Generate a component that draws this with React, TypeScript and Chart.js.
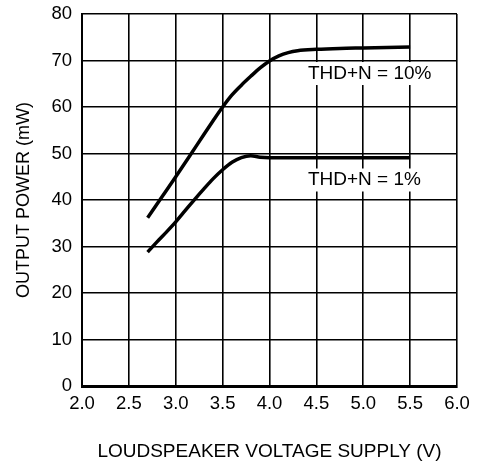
import React, { useEffect, useRef } from "react";
import { Chart, registerables } from "chart.js";

Chart.register(...registerables);

// Data
const supply10: number[] = [2.7, 2.85, 3.0, 3.15, 3.3, 3.4, 3.5, 3.6, 3.7, 3.8, 3.9, 4.0, 4.1, 4.2, 4.3, 4.5, 4.75, 5.0, 5.25, 5.5];
const power10: number[] = [36.2, 40.6, 45.0, 49.5, 54.1, 57.1, 60.0, 62.6, 64.7, 66.6, 68.4, 69.9, 71.0, 71.7, 72.1, 72.4, 72.6, 72.7, 72.8, 72.9];

const supply1: number[] = [2.7, 2.8, 2.9, 3.0, 3.1, 3.2, 3.3, 3.4, 3.5, 3.6, 3.7, 3.8, 3.9, 4.0, 4.5, 5.0, 5.5];
const power1: number[] = [28.8, 31.0, 33.1, 35.3, 37.7, 40.1, 42.4, 44.6, 46.5, 48.1, 49.1, 49.5, 49.2, 49.1, 49.1, 49.1, 49.1];

const seriesNames: string[] = ["THD+N = 10%", "THD+N = 1%"];
// label anchors (data units): left edge of text, vertical center
const labelX: number[] = [4.41, 4.41];
const labelY: number[] = [67.2, 44.3];

const xTitle = "LOUDSPEAKER VOLTAGE SUPPLY (V)";
const yTitle = "OUTPUT POWER (mW)";

const FONT = "'Liberation Sans', Arial, Helvetica, sans-serif";

const labelPlugin = {
  id: "curveLabels",
  afterDatasetsDraw(chart: any) {
    const { ctx, scales } = chart;
    const xs = scales.x;
    const ys = scales.y;
    ctx.save();
    ctx.font = `19px ${FONT}`;
    ctx.textBaseline = "middle";
    ctx.textAlign = "left";
    seriesNames.forEach((name, i) => {
      const px = xs.getPixelForValue(labelX[i]);
      const py = ys.getPixelForValue(labelY[i]);
      const w = ctx.measureText(name).width;
      ctx.fillStyle = "#ffffff";
      ctx.fillRect(px - 3, py - 11.5, w + 6, 23);
      ctx.fillStyle = "#000000";
      ctx.fillText(name, px, py);
    });
    ctx.restore();
  },
};

export default function App() {
  const ref = useRef<HTMLCanvasElement | null>(null);

  useEffect(() => {
    if (!ref.current) return;
    const chart = new Chart(ref.current, {
      type: "line",
      data: {
        datasets: [
          {
            label: seriesNames[0],
            data: supply10.map((v, i) => ({ x: v, y: power10[i] })),
            borderColor: "#000000",
            borderWidth: 3.5,
            pointRadius: 0,
            fill: false,
            cubicInterpolationMode: "monotone",
          },
          {
            label: seriesNames[1],
            data: supply1.map((v, i) => ({ x: v, y: power1[i] })),
            borderColor: "#000000",
            borderWidth: 3.5,
            pointRadius: 0,
            fill: false,
            cubicInterpolationMode: "monotone",
          },
        ],
      },
      options: {
        responsive: false,
        animation: false,
        layout: { padding: { top: 14, right: 24, left: 0, bottom: 0 } },
        plugins: {
          legend: { display: false },
          tooltip: { enabled: false },
          title: { display: false },
        },
        scales: {
          x: {
            type: "linear",
            min: 2,
            max: 6,
            afterFit: (s: any) => {
              s.height = 79;
              s.paddingLeft = 0;
              s.paddingRight = 0;
            },
            ticks: {
              stepSize: 0.5,
              padding: 7,
              color: "#000000",
              font: { family: FONT, size: 18.5 },
              callback: (v: any) => Number(v).toFixed(1),
              maxRotation: 0,
              autoSkip: false,
            },
            grid: { color: "#000000", lineWidth: 1.6, drawTicks: false },
            border: { color: "#000000", width: 3 },
            title: {
              display: true,
              text: xTitle,
              color: "#000000",
              font: { family: FONT, size: 19 },
              padding: { top: 0, bottom: 2 },
            },
          },
          y: {
            type: "linear",
            min: 0,
            max: 80,
            afterFit: (s: any) => {
              s.width = 82;
              s.paddingTop = 0;
              s.paddingBottom = 0;
            },
            ticks: {
              stepSize: 10,
              padding: 10,
              color: "#000000",
              font: { family: FONT, size: 18.5 },
            },
            grid: { color: "#000000", lineWidth: 1.6, drawTicks: false },
            border: { color: "#000000", width: 2 },
            title: {
              display: true,
              text: yTitle,
              color: "#000000",
              font: { family: FONT, size: 18 },
              padding: { top: 13, bottom: 0 },
            },
          },
        },
      },
      plugins: [labelPlugin],
    } as any);
    return () => chart.destroy();
  }, []);

  return (
    <div style={{ position: "absolute", left: 0, top: 0, width: 481, height: 465, background: "#ffffff" }}>
      <canvas ref={ref} width={481} height={465} style={{ display: "block" }} />
    </div>
  );
}
